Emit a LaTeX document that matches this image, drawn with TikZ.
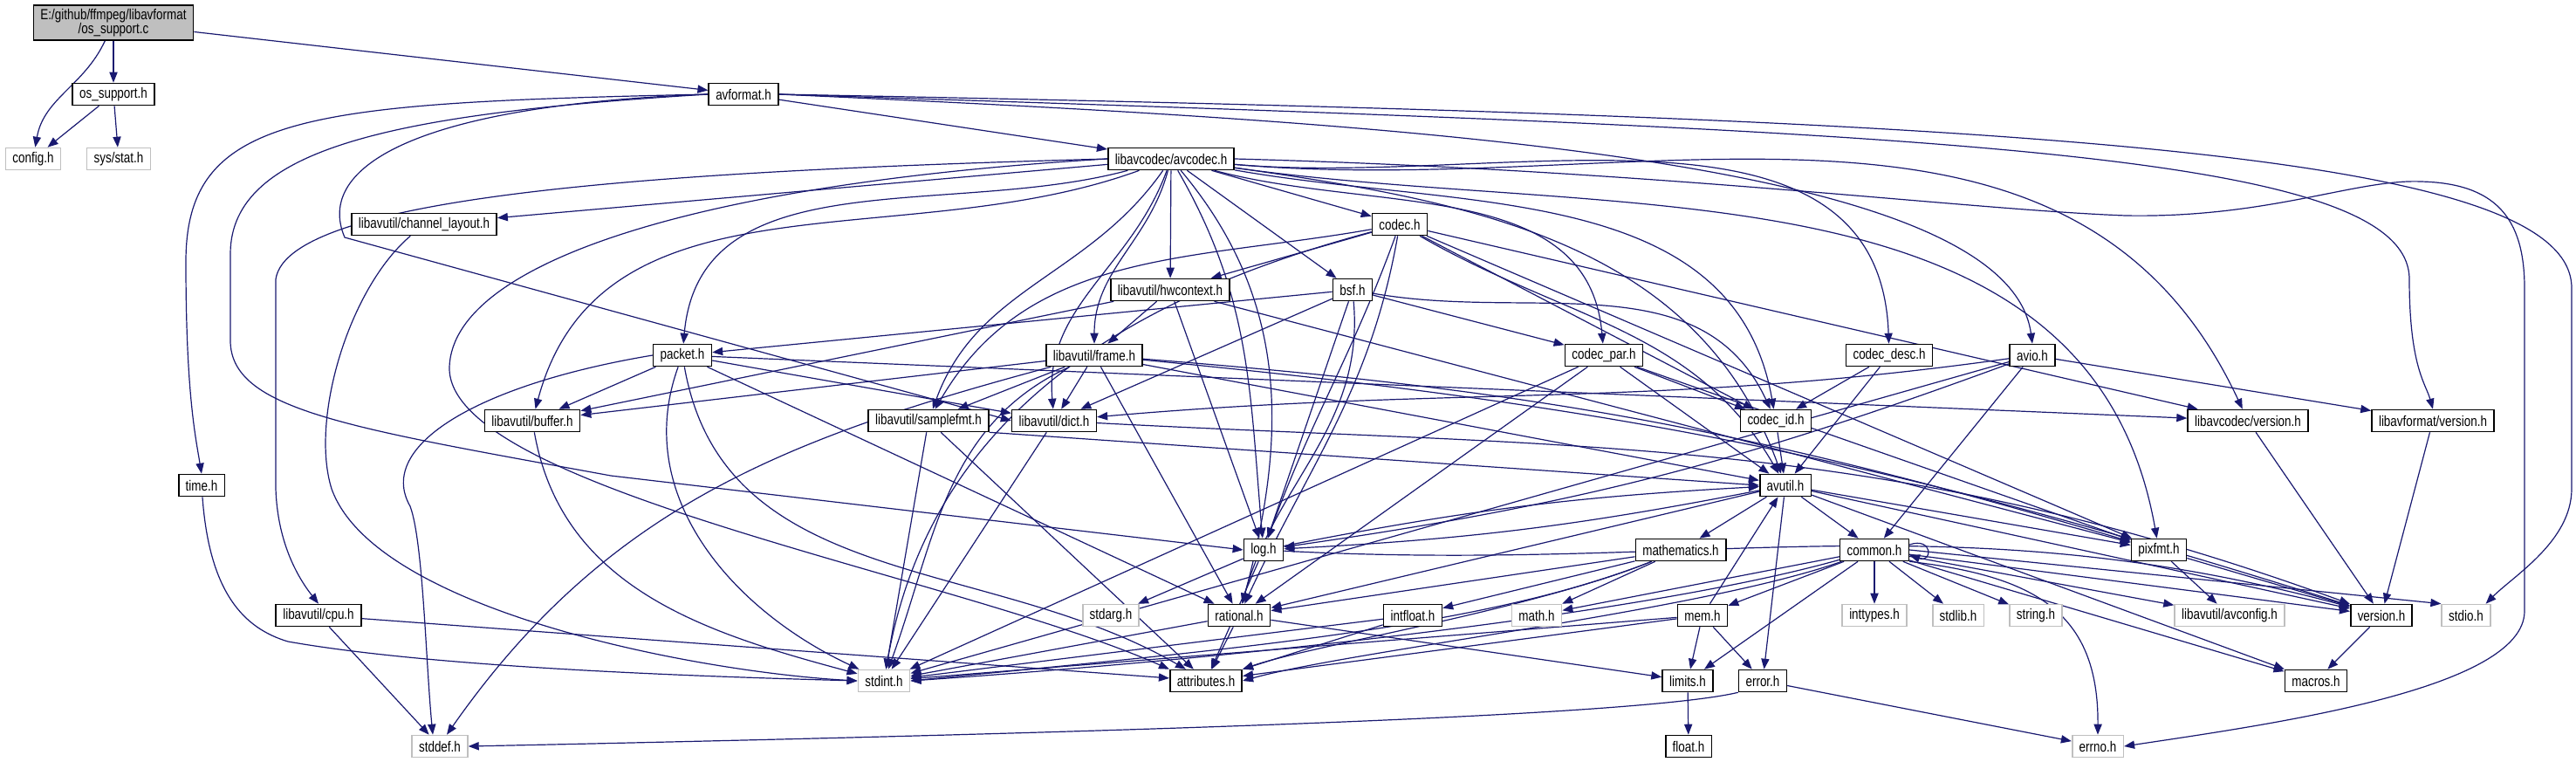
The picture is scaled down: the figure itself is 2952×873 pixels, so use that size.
\documentclass[tikz,border=0pt]{standalone}
\usepackage{fontspec}
\newfontfamily\graphfont{Liberation Sans}[FakeStretch=0.8]
\usetikzlibrary{arrows.meta, backgrounds}
\definecolor{incnavy}{HTML}{191970}
\definecolor{incgray}{HTML}{BFBFBF}

\begin{document}
\begin{tikzpicture}[x=0.5pt,y=-0.5pt,
    hfile/.style={draw=black,fill=white,line width=0.8pt,minimum height=12.5pt,inner xsep=4pt,inner ysep=0pt,font=\graphfont\fontsize{8.4}{8}\selectfont},
    sysfile/.style={hfile,draw=incgray},
    incl/.style={draw=incnavy,line width=0.6pt,-{Triangle[length=6pt,width=4.6pt]}}]
  \useasboundingbox (0,0) rectangle (2952,873);
  \node[hfile,fill=incgray,align=center,minimum height=20pt] (root) at (130,26) {E:/github/ffmpeg/libavformat\\/os\_support.c};
  \node[hfile] (ossup) at (130,108) {os\_support.h};
  \node[sysfile] (config) at (38,182) {config.h};
  \node[sysfile] (sysstat) at (136,182) {sys/stat.h};
  \node[hfile] (avformat) at (852,108) {avformat.h};
  \node[hfile] (avcodec) at (1342,182) {libavcodec/avcodec.h};
  \node[hfile] (chlayout) at (486,257) {libavutil/channel\_layout.h};
  \node[hfile] (codec) at (1604,257) {codec.h};
  \node[hfile] (hwctx) at (1341,332) {libavutil/hwcontext.h};
  \node[hfile] (bsf) at (1550,332) {bsf.h};
  \node[hfile] (packet) at (782,407) {packet.h};
  \node[hfile] (frame) at (1254,407) {libavutil/frame.h};
  \node[hfile] (codecpar) at (1838,407) {codec\_par.h};
  \node[hfile] (codecdesc) at (2165,407) {codec\_desc.h};
  \node[hfile] (avio) at (2329,407) {avio.h};
  \node[hfile] (buffer) at (610,482) {libavutil/buffer.h};
  \node[hfile] (samplefmt) at (1064,482) {libavutil/samplefmt.h};
  \node[hfile] (dict) at (1208,482) {libavutil/dict.h};
  \node[hfile] (codecid) at (2035,482) {codec\_id.h};
  \node[hfile] (lavcver) at (2576,482) {libavcodec/version.h};
  \node[hfile] (lavfver) at (2788,482) {libavformat/version.h};
  \node[hfile] (timeh) at (231,556) {time.h};
  \node[hfile] (avutil) at (2046,556) {avutil.h};
  \node[hfile] (logh) at (1448,630) {log.h};
  \node[hfile] (mathem) at (1926,630) {mathematics.h};
  \node[hfile] (common) at (2148,630) {common.h};
  \node[hfile] (pixfmt) at (2474,630) {pixfmt.h};
  \node[hfile] (cpu) at (365,705) {libavutil/cpu.h};
  \node[sysfile] (stdarg) at (1273,705) {stdarg.h};
  \node[hfile] (rational) at (1420,705) {rational.h};
  \node[hfile] (intfloat) at (1619,705) {intfloat.h};
  \node[sysfile] (mathh) at (1761,705) {math.h};
  \node[hfile] (mem) at (1951,705) {mem.h};
  \node[sysfile] (inttypes) at (2148,705) {inttypes.h};
  \node[sysfile] (stdlib) at (2244,705) {stdlib.h};
  \node[sysfile] (string) at (2333,705) {string.h};
  \node[sysfile] (avconfig) at (2555,705) {libavutil/avconfig.h};
  \node[hfile] (version) at (2729,705) {version.h};
  \node[sysfile] (stdio) at (2826,705) {stdio.h};
  \node[sysfile] (stdint) at (1013,780) {stdint.h};
  \node[hfile] (attrib) at (1382,780) {attributes.h};
  \node[hfile] (limits) at (1934,780) {limits.h};
  \node[hfile] (errorh) at (2020,780) {error.h};
  \node[hfile] (macros) at (2654,780) {macros.h};
  \node[sysfile] (stddef) at (504,855) {stddef.h};
  \node[hfile] (floath) at (1935,855) {float.h};
  \node[sysfile] (errno) at (2404,855) {errno.h};

  \begin{scope}[on background layer]
    % os_support.c and os_support.h
    \draw[incl] (root) to[out=-115,in=80] (config);
    \draw[incl] (root) -- (ossup);
    \draw[incl] (root) -- (avformat);
    \draw[incl] (ossup) -- (config);
    \draw[incl] (ossup) -- (sysstat);
    % avformat.h
    \draw[incl] (avformat.west) .. controls (350,118) and (213,130) .. (213,300) .. controls (213,450) and (224,500) .. (timeh.north);
    \draw[incl] (avformat.west) .. controls (450,130) and (265,170) .. (264,290) -- (264,390) .. controls (264,470) and (400,490) .. (700,545) -- (logh.west);
    \draw[incl] (avformat.west) .. controls (480,120) and (360,190) .. (395,272) -- (dict.west);
    \draw[incl] (avformat) -- (avcodec);
    \draw[incl] (avformat.east) .. controls (1600,140) and (2300,180) .. (avio.north);
    \draw[incl] (avformat.east) .. controls (2200,150) and (2761,170) .. (2761,320) .. controls (2761,420) and (2780,440) .. (lavfver.north);
    \draw[incl] (avformat.east) .. controls (2300,135) and (2947,170) .. (2947,330) -- (2947,560) .. controls (2947,620) and (2880,660) .. ([xshift=-3pt]stdio.north east);
    % libavcodec/avcodec.h
    \draw[incl] (avcodec.east) .. controls (1900,195) and (2250,240) .. (2436,247) .. controls (2600,250) and (2700,205) .. (2774,208) .. controls (2860,210) and (2893,250) .. (2893,330) -- (2893,700) .. controls (2893,790) and (2600,830) .. (errno.east);
    \draw[incl] (avcodec.west) .. controls (800,195) and (330,220) .. (316,320) -- (316,560) .. controls (318,620) and (340,660) .. (cpu.north);
    \draw[incl] (avcodec) -- (chlayout);
    \draw[incl] (avcodec) to[out=195,in=85] (packet);
    \draw[incl] (avcodec) to[out=200,in=75] (buffer);
    \draw[incl] (avcodec) to[out=235,in=70] (samplefmt);
    \draw[incl] (avcodec) to[out=250,in=95] (dict);
    \draw[incl] (avcodec) to[out=255,in=90] (frame);
    \draw[incl] (avcodec.west) .. controls (800,210) and (520,300) .. (515,420) .. controls (510,560) and (1100,660) .. (attrib.north west);
    \draw[incl] (avcodec) -- (hwctx);
    \draw[incl] (avcodec) -- (bsf);
    \draw[incl] (avcodec) -- (codec);
    \draw[incl] (avcodec) to[out=-60,in=95] (logh);
    \draw[incl] (avcodec) to[out=-50,in=75] (rational);
    \draw[incl] (avcodec) to[out=-8,in=110] (avutil);
    \draw[incl] (avcodec) to[out=-5,in=92] (codecdesc);
    \draw[incl] (avcodec) to[out=-15,in=95] (codecpar);
    \draw[incl] (avcodec) to[out=-10,in=100] (codecid);
    \draw[incl] (avcodec) to[out=-5,in=115] (lavcver);
    \draw[incl] (avcodec) to[out=-8,in=100] (pixfmt);
    % libavutil headers, left part
    \draw[incl] (chlayout) .. controls (400,330) and (355,480) .. (380,560) .. controls (430,700) and (800,770) .. (stdint.west);
    \draw[incl] (timeh) .. controls (240,680) and (280,720) .. (330,735) .. controls (500,765) and (800,775) .. (stdint.west);
    \draw[incl] (buffer) to[out=-80,in=165] (stdint);
    \draw[incl] (cpu) -- (stddef);
    \draw[incl] (cpu) -- (attrib);
    % packet.h
    \draw[incl] (packet) -- (buffer);
    \draw[incl] (packet.west) .. controls (550,440) and (430,510) .. (470,580) .. controls (485,620) and (488,760) .. ([xshift=-4pt]stddef.north);
    \draw[incl] (packet) to[out=-110,in=155] (stdint);
    \draw[incl] (packet) to[out=-80,in=150] (attrib);
    \draw[incl] (packet) -- (rational);
    \draw[incl] (packet) -- (dict);
    \draw[incl] (packet) -- (lavcver);
    % libavutil/frame.h and libavutil/hwcontext.h
    \draw[incl] (frame) to[out=195,in=55] ([xshift=4pt]stddef.north);
    \draw[incl] (frame) to[out=205,in=70] (stdint);
    \draw[incl] (frame) -- (buffer);
    \draw[incl] (frame) -- (dict);
    \draw[incl] (frame) -- (samplefmt);
    \draw[incl] (frame) -- (rational);
    \draw[incl] (frame) -- (avutil);
    \draw[incl] (frame) to[bend left=6] (pixfmt);
    \draw[incl] (frame) to[bend left=6] (version);
    \draw[incl] (hwctx) -- (buffer);
    \draw[incl] (hwctx) -- (frame);
    \draw[incl] (hwctx) -- (logh);
    \draw[incl] (hwctx) -- (pixfmt);
    % bsf.h
    \draw[incl] (bsf) -- (packet);
    \draw[incl] (bsf) -- (dict);
    \draw[incl] (bsf) -- (logh);
    \draw[incl] (bsf) to[out=-85,in=75] (rational);
    \draw[incl] (bsf) -- (codecpar);
    \draw[incl] (bsf) to[out=-10,in=115] (codecid);
    % codec.h
    \draw[incl] (codec) to[out=195,in=80] (stdint);
    \draw[incl] (codec) -- (hwctx);
    \draw[incl] (codec) to[out=190,in=60] (samplefmt);
    \draw[incl] (codec) to[out=-110,in=70] (logh);
    \draw[incl] (codec) to[out=-100,in=65] (rational);
    \draw[incl] (codec) to[out=-30,in=120] (avutil);
    \draw[incl] (codec) -- (pixfmt);
    \draw[incl] (codec) -- (codecid);
    \draw[incl] (codec) -- (lavcver);
    % codec_par.h, codec_desc.h, codec_id.h
    \draw[incl] (codecpar) -- (stdint);
    \draw[incl] (codecpar) -- (avutil);
    \draw[incl] (codecpar) -- (rational);
    \draw[incl] (codecpar) -- (pixfmt);
    \draw[incl] (codecpar) -- (codecid);
    \draw[incl] (codecdesc) -- (avutil);
    \draw[incl] (codecdesc) -- (codecid);
    \draw[incl] (codecid) -- (avutil);
    % avio.h
    \draw[incl] (avio) -- (stdint);
    \draw[incl] (avio) -- (common);
    \draw[incl] (avio) to[out=188,in=5] (dict);
    \draw[incl] (avio) to[bend left=6] (logh);
    \draw[incl] (avio) -- (lavfver);
    % samplefmt.h, dict.h, version headers
    \draw[incl] (samplefmt) -- (stdint);
    \draw[incl] (samplefmt.south east) -- (avutil.west);
    \draw[incl] (samplefmt) -- (attrib);
    \draw[incl] (dict) -- (stdint);
    \draw[incl] (dict) to[out=-3,in=160] (version);
    \draw[incl] (lavcver) -- (version);
    \draw[incl] (lavfver) -- (version);
    % avutil.h and log.h
    \draw[incl] (avutil) -- (common);
    \draw[incl] (avutil) -- (errorh);
    \draw[incl] (avutil) -- (rational);
    \draw[incl] (avutil) -- (version);
    \draw[incl] (avutil) -- (macros);
    \draw[incl] (avutil) -- (mathem);
    \draw[incl] (avutil) to[bend left=4] (logh);
    \draw[incl] (avutil) -- (pixfmt);
    \draw[incl] (logh) to[bend left=4] (avutil);
    \draw[incl] (logh) -- (stdarg);
    \draw[incl] (logh) -- (attrib);
    \draw[incl] (logh) to[out=-3,in=165] (version);
    % mathematics.h, rational.h, intfloat.h, mem.h
    \draw[incl] (mathem) .. controls (1700,720) and (1400,745) .. (stdint.east);
    \draw[incl] (mathem) .. controls (1750,700) and (1500,740) .. (attrib.north east);
    \draw[incl] (mathem) -- (mathh);
    \draw[incl] (mathem) -- (rational);
    \draw[incl] (mathem) -- (intfloat);
    \draw[incl] (rational) -- (stdint);
    \draw[incl] (rational) -- (limits);
    \draw[incl] (rational) -- (attrib);
    \draw[incl] (intfloat) -- (stdint);
    \draw[incl] (intfloat) -- (attrib);
    \draw[incl] (mem) -- (limits);
    \draw[incl] (mem) -- (stdint);
    \draw[incl] (mem) -- (attrib);
    \draw[incl] (mem) -- (errorh);
    \draw[incl] (mem) -- (avutil);
    % common.h
    \draw[incl] (common.south east) .. controls (2330,660) and (2405,700) .. (errno.north);
    \draw[incl] (common) -- (inttypes);
    \draw[incl] (common) -- (stdlib);
    \draw[incl] (common) -- (string);
    \draw[incl] (common) -- (avconfig);
    \draw[incl] (common) -- (version);
    \draw[incl] (common.east) -- (stdio.north west);
    \draw[incl] (common) -- (macros);
    \draw[incl] (common) -- (limits);
    \draw[incl] (common) -- (mathh);
    \draw[incl] (common) .. controls (1900,700) and (1450,752) .. (stdint.east);
    \draw[incl] (common) .. controls (1950,700) and (1550,745) .. (attrib.east);
    \draw[incl] (common) -- (mem);
    \draw[incl] ([yshift=3pt]common.east) .. controls (2215,615) and (2215,645) .. ([yshift=-3pt]common.east);
    % the rest
    \draw[incl] (pixfmt) -- (avconfig);
    \draw[incl] (pixfmt) -- (version);
    \draw[incl] (version) -- (macros);
    \draw[incl] (errorh) -- (errno);
    \draw[incl] (errorh.south west) .. controls (1900,815) and (1500,835) .. (stddef.east);
    \draw[incl] (limits) -- (floath);
  \end{scope}
\end{tikzpicture}
\end{document}
